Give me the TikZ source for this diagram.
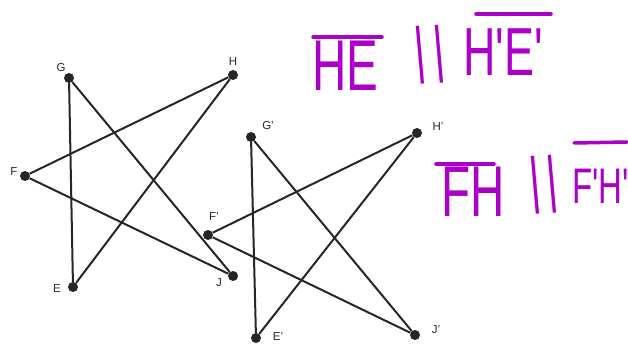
\documentclass[tikz,border=0pt]{standalone}
\usepackage{fontspec}
\setmainfont{Liberation Sans}
\newfontfamily\handfont[FakeStretch=0.66]{Liberation Sans}
\definecolor{hand}{RGB}{170,0,200}
\begin{document}
\begin{tikzpicture}[x=1pt,y=-1pt,
  pt/.style={circle,fill=black!85,inner sep=0pt,minimum size=10pt},
  lab/.style={font=\fontsize{11.5}{11.5}\selectfont,inner sep=0pt,text=black!85},
  seg/.style={line width=2pt,black!85},
  hw/.style={text=hand,inner sep=0pt,anchor=base west},
  ovl/.style={hand,line width=3.5pt,line cap=round}]
\useasboundingbox (0,0) rectangle (628,344);
% first figure
\node[pt] (G) at (69,78) {};
\node[pt] (H) at (233,75) {};
\node[pt] (F) at (25,176) {};
\node[pt] (E) at (73,287) {};
\node[pt] (J) at (233,276) {};
\node[lab] at (61,68) {G};
\node[lab] at (233,62) {H};
\node[lab] at (14,172) {F};
\node[lab] at (57,289) {E};
\node[lab] at (219,283) {J};
\draw[seg] (G) -- (E);
\draw[seg] (G) -- (J);
\draw[seg] (F) -- (H);
\draw[seg] (F) -- (J);
\draw[seg] (H) -- (E);
% second figure
\node[pt] (G2) at (251,137) {};
\node[pt] (H2) at (417,133) {};
\node[pt] (F2) at (208,235) {};
\node[pt] (E2) at (256,338) {};
\node[pt] (J2) at (415,335) {};
\node[lab] at (268,126) {G'};
\node[lab] at (438,127) {H'};
\node[lab] at (214,217) {F'};
\node[lab] at (278,337) {E'};
\node[lab] at (436,330) {J'};
\draw[seg] (G2) -- (E2);
\draw[seg] (G2) -- (J2);
\draw[seg] (F2) -- (H2);
\draw[seg] (F2) -- (J2);
\draw[seg] (H2) -- (E2);
% handwritten notes
\node[hw,font=\handfont\fontsize{72}{72}\selectfont] (t1) at (312,91) {HE};
\node[hw,font=\handfont\fontsize{62}{62}\selectfont,rotate=5] (t2) at (416,72) {|\kern9pt|};
\node[hw,font=\handfont\fontsize{68}{68}\selectfont] (t3) at (463,76) {H'E'};
\draw[ovl] (313,37) -- (382,37);
\draw[ovl] (476,14) -- (551,14);
\node[hw,font=\handfont\fontsize{72}{72}\selectfont] (t4) at (441,217) {FH};
\node[hw,font=\handfont\fontsize{62}{62}\selectfont,rotate=5] (t5) at (531,202) {|\kern7pt|};
\node[hw,font=\handfont\fontsize{50}{50}\selectfont] (t6) at (572,204) {F'H'};
\draw[ovl] (436,164) -- (494,164);
\draw[ovl] (574,143) -- (627,142);
\end{tikzpicture}
\end{document}
